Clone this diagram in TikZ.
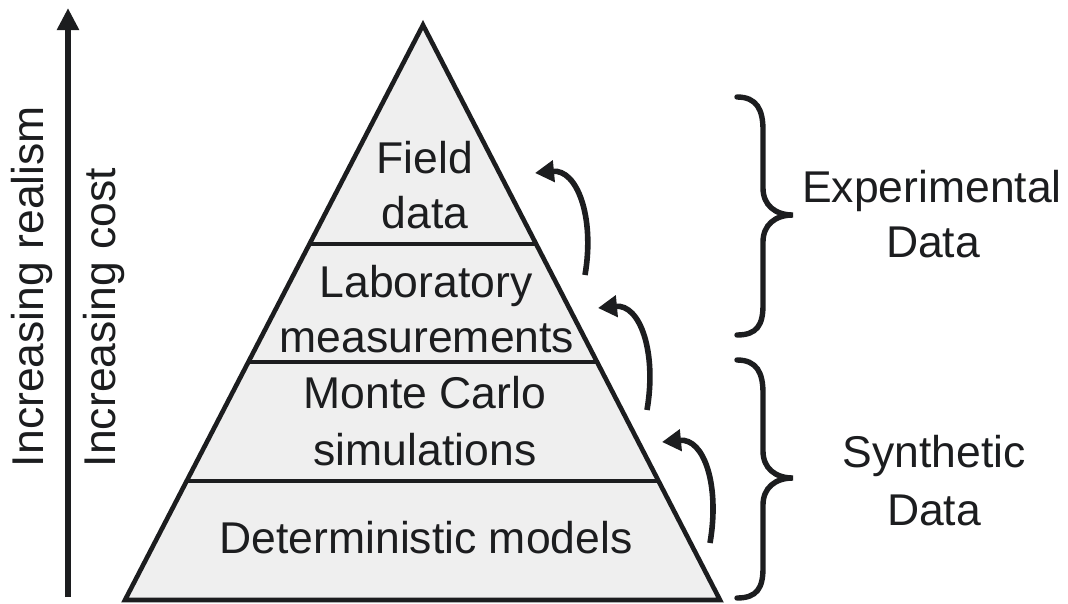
\documentclass[tikz,border=0pt]{standalone}
\usepackage{fontspec}
\setmainfont{Liberation Sans}
\usetikzlibrary{arrows.meta,calc}
\definecolor{ink}{HTML}{1C1D1F}
\definecolor{pyr}{HTML}{EFEFEF}
\begin{document}
\begin{tikzpicture}[x=1pt,y=-1pt,
  lbl/.style={font=\fontsize{44.5}{53}\selectfont, text=ink, inner sep=0pt, anchor=base},
  bar/.style={draw=ink, line width=4.6pt},
  carrow/.style={draw=ink, line width=5.6pt, -{Triangle[length=19pt,width=21pt]}},
  bracestyle/.style={draw=ink, line width=5.4pt, line cap=round}]
\useasboundingbox (0,0) rectangle (1068,603);
% pyramid
\coordinate (apex) at (423,25);
\coordinate (bl) at (125,600);
\coordinate (br) at (720,600);
\filldraw[fill=pyr, draw=ink, line width=4.6pt, line join=miter] (apex) -- (br) -- (bl) -- cycle;
\coordinate (sl1) at ($(apex)!0.381!(bl)$);
\coordinate (sr1) at ($(apex)!0.381!(br)$);
\coordinate (sl2) at ($(apex)!0.586!(bl)$);
\coordinate (sr2) at ($(apex)!0.586!(br)$);
\coordinate (sl3) at ($(apex)!0.793!(bl)$);
\coordinate (sr3) at ($(apex)!0.793!(br)$);
\draw[bar] (sl1) -- (sr1);
\draw[bar] (sl2) -- (sr2);
\draw[bar] (sl3) -- (sr3);
% pyramid labels
\node[lbl] (field) at (425,173) {Field};
\node[lbl] (fdata) at (425,228) {data};
\node[lbl] (lab) at (426,297) {Laboratory};
\node[lbl] (meas) at (427,352) {measurements};
\node[lbl] (monte) at (425,408) {Monte Carlo};
\node[lbl] (simu) at (425,465) {simulations};
\node[lbl] (det) at (426,553) {Deterministic models};
% vertical axis arrow
\coordinate (va) at (68,597);
\coordinate (vb) at (68,8);
\draw[draw=ink, line width=5.6pt, -{Triangle[length=22pt,width=21pt]}] (va) -- (vb);
\node[lbl, rotate=90] (realism) at (43,286.5) {Increasing realism};
\node[lbl, rotate=90] (cost) at (115,317.5) {Increasing cost};
% curved arrows
\coordinate (a1s) at (585,275); \coordinate (a1e) at (535,173);
\coordinate (a2s) at (647,410); \coordinate (a2e) at (598,308);
\coordinate (a3s) at (710,543); \coordinate (a3e) at (662,442);
\draw[carrow] (a1s) .. controls +(10,-58) and +(42,-4) .. (a1e);
\draw[carrow] (a2s) .. controls +(10,-58) and +(42,-4) .. (a2e);
\draw[carrow] (a3s) .. controls +(10,-58) and +(42,-4) .. (a3e);
% braces
\draw[bracestyle] (737,97) .. controls (757,97) and (763,110) .. (763,130) -- (763,188)
  .. controls (763,205) and (775,215) .. (793,215)
  .. controls (775,215) and (763,225) .. (763,242) -- (763,305)
  .. controls (763,325) and (757,335) .. (737,335);
\begin{scope}[shift={(0,263)}]
\draw[bracestyle] (737,97) .. controls (757,97) and (763,110) .. (763,130) -- (763,188)
  .. controls (763,205) and (775,215) .. (793,215)
  .. controls (775,215) and (763,225) .. (763,242) -- (763,305)
  .. controls (763,325) and (757,335) .. (737,335);
\end{scope}
% right labels
\node[lbl] (exp) at (932,202) {Experimental};
\node[lbl] (edata) at (933,257) {Data};
\node[lbl] (syn) at (934,467) {Synthetic};
\node[lbl] (sdata) at (934,525) {Data};
\end{tikzpicture}
\end{document}
